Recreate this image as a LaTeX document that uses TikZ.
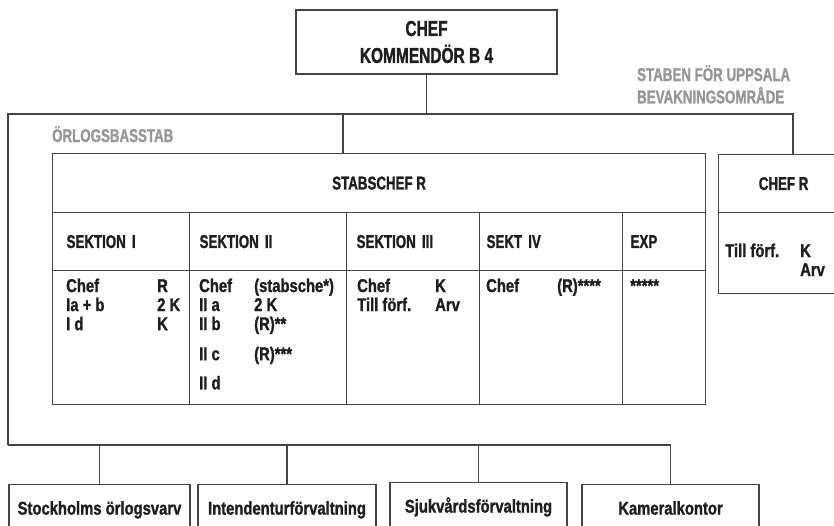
\documentclass[tikz,border=0pt]{standalone}
\usepackage{fontspec}
\setmainfont{Liberation Sans}[FakeStretch=0.8,FakeBold=1.2]
\newfontfamily\capsfamily{Liberation Sans}[FakeStretch=0.72,FakeBold=1.2]
\usetikzlibrary{positioning,calc}

\definecolor{linegray}{RGB}{68,68,68}
\definecolor{inkblack}{RGB}{30,30,30}
\definecolor{staffgray}{RGB}{150,150,150}

\newcommand{\orgfont}{\fontsize{18.5}{19}\selectfont\bfseries}
\newcommand{\capsfont}{\capsfamily\fontsize{18.5}{20}\selectfont\bfseries}
\newcommand{\topfont}{\capsfamily\fontsize{21.5}{23}\selectfont\bfseries}

\begin{document}
\begin{tikzpicture}[x=1pt,y=-1pt,
  box/.style={draw=linegray,line width=1.2pt,rectangle,inner sep=0pt,text=inkblack,font=\capsfont},
  cell/.style={box,anchor=north west},
  hcell/.style={cell,minimum height=58pt,align=left},
  bbox/.style={box,anchor=north,font=\orgfont,text height=13pt,text depth=4pt,inner ysep=17pt},
  txt/.style={inner sep=0pt,text=inkblack,font=\orgfont,anchor=base west},
  staff/.style={inner sep=0pt,text=staffgray,font=\capsfont,anchor=base west},
  conn/.style={draw=linegray,line width=1.2pt}]
\useasboundingbox (0,0) rectangle (834,525);

% top of the tree
\node[box,font=\topfont,align=center,minimum width=261pt,minimum height=64pt] (chef) at (426.5,42) {CHEF\\[4pt]KOMMENDÖR B 4};
\node[staff] (uppsala) at (637,81) {\begin{tabular}[t]{@{}l@{}}STABEN FÖR UPPSALA\\BEVAKNINGSOMRÅDE\end{tabular}};
\node[staff] (orlog) at (52,142) {ÖRLOGSBASSTAB};

% staff table
\node[cell,minimum width=653pt,minimum height=59pt] (stab) at (52,153) {STABSCHEF R};
\node[hcell,minimum width=137pt,inner xsep=14pt,text width=109pt] (s1) at (52,212) {SEKTION I};
\node[hcell,minimum width=157pt,inner xsep=10pt,text width=137pt] (s2) at (189,212) {SEKTION II};
\node[hcell,minimum width=133pt,inner xsep=10pt,text width=113pt] (s3) at (346,212) {SEKTION III};
\node[hcell,minimum width=143pt,inner xsep=7pt,text width=129pt] (s4) at (479,212) {SEKT IV};
\node[hcell,minimum width=83pt,inner xsep=8pt,text width=67pt] (exp) at (622,212) {EXP};
\node[cell,minimum width=137pt,minimum height=134pt] (s1b) at (52,270) {};
\node[cell,minimum width=157pt,minimum height=134pt] (s2b) at (189,270) {};
\node[cell,minimum width=133pt,minimum height=134pt] (s3b) at (346,270) {};
\node[cell,minimum width=143pt,minimum height=134pt] (s4b) at (479,270) {};
\node[cell,minimum width=83pt,minimum height=134pt] (expb) at (622,270) {};

\node[txt] (s1txt) at (66,292) {\begin{tabular}[t]{@{}p{91pt}@{}l@{}}Chef&R\\Ia + b&2 K\\I d&K\end{tabular}};
\node[txt] (s2txt) at (199,292) {\begin{tabular}[t]{@{}p{55pt}@{}l@{}}Chef&(stabsche*)\\II a&2 K\\II b&(R)**\\[11pt]II c&(R)***\\[10pt]II d&\end{tabular}};
\node[txt] (s3txt) at (357,292) {\begin{tabular}[t]{@{}p{78pt}@{}l@{}}Chef&K\\Till förf.&Arv\end{tabular}};
\node[txt] (s4txt) at (486,292) {\begin{tabular}[t]{@{}p{71pt}@{}l@{}}Chef&(R)****\end{tabular}};
\node[txt] (exptxt) at (630,292) {*****};

% uppsala chief
\node[cell,minimum width=130pt,minimum height=58pt] (chefr) at (718,154) {CHEF R};
\node[cell,minimum width=130pt,minimum height=81pt] (chefrb) at (718,212) {};
\node[txt] (chefrtxt) at (725,257) {\begin{tabular}[t]{@{}p{75pt}@{}l@{}}Till förf.&K\\&Arv\end{tabular}};

% offices
\node[bbox,minimum width=181pt] (varv) at (99.5,484) {Stockholms örlogsvarv};
\node[bbox,minimum width=178pt] (intend) at (287,484) {Intendenturförvaltning};
\node[bbox,minimum width=177pt] (sjuk) at (478.5,482) {Sjukvårdsförvaltning};
\node[bbox,minimum width=177pt] (kameral) at (670.5,484) {Kameralkontor};

% connectors
\coordinate (topbar) at (8,114);
\coordinate (lowbar) at (8,445);
\coordinate (stabin) at ($(stab.north west)+(291,0)$);
\draw[conn] (chef.south) -- (chef.south |- topbar);
\draw[conn] (lowbar) -- (topbar) -| ($(chefr.north west)+(75,0)$);
\draw[conn] (stabin) -- (stabin |- topbar);
\draw[conn] (lowbar) -| (kameral.north);
\foreach \b in {varv,intend,sjuk}
  \draw[conn] (\b.north) -- (\b.north |- lowbar);
\end{tikzpicture}
\end{document}
